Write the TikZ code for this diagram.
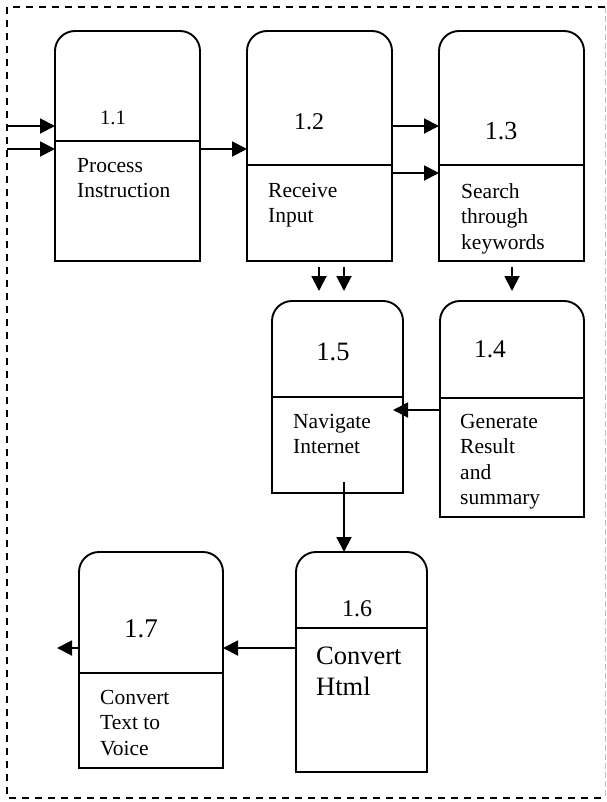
\documentclass[tikz,border=0pt]{standalone}
\usepackage{fontspec}
\setmainfont{Liberation Serif}
\usetikzlibrary{arrows.meta}
\tikzset{
  boxarea/.style={inner sep=0pt, outer sep=0pt, anchor=north west},
  boxline/.style={line width=1.9bp, black},
  arr/.style={line width=1.9bp, -{Triangle[length=15bp,width=15bp]}},
  lbl/.style={inner sep=0pt, anchor=base},
  body/.style={inner sep=0pt, anchor=north west, align=left, font=\fontsize{21.5bp}{25.5bp}\selectfont},
  border/.style={line width=1.9bp, dash pattern=on 7bp off 6bp},
}
\newcommand\mkproc[6]{%
  \node[boxarea, minimum width=#4bp, minimum height=#5bp] (#1) at (#2,#3) {};
  \draw[boxline] (#1.south west) -- ([yshift=-20bp]#1.north west)
     arc[start angle=180,end angle=90,radius=20bp] -- ([xshift=-20bp]#1.north east)
     arc[start angle=90,end angle=0,radius=20bp] -- (#1.south east) -- cycle;
  \draw[boxline] (#1.west |- 0,#6) -- (#1.east |- 0,#6);
}
\begin{document}
\begin{tikzpicture}[x=1bp, y=-1bp]
\useasboundingbox (0,0) rectangle (607,802);
% border
\draw[border] (605,7) -- (7,7) -- (7,798) -- (605,798);
\draw[line width=1bp, black!25, dash pattern=on 6bp off 3bp] (605,7) -- (605,798);
% process boxes
\mkproc{b11}{55}{31}{145}{230}{141}
\mkproc{b12}{247}{31}{145}{230}{165}
\mkproc{b13}{439}{31}{145}{230}{165}
\mkproc{b15}{272}{301}{131}{192}{397}
\mkproc{b14}{440}{301}{144}{216}{398}
\mkproc{b16}{296}{552}{131}{220}{628}
\mkproc{b17}{79}{552}{144}{216}{673}
% labels
\node[lbl, font=\fontsize{20.5bp}{24bp}\selectfont] (n11) at (113,124) {1.1};
\node[lbl, font=\fontsize{24bp}{28bp}\selectfont] (n12) at (309,129) {1.2};
\node[lbl, font=\fontsize{26bp}{30bp}\selectfont] (n13) at (501,139) {1.3};
\node[lbl, font=\fontsize{26.5bp}{30bp}\selectfont] (n15) at (333,360) {1.5};
\node[lbl, font=\fontsize{25.5bp}{30bp}\selectfont] (n14) at (490,357) {1.4};
\node[lbl, font=\fontsize{24bp}{28bp}\selectfont] (n16) at (357,616) {1.6};
\node[lbl, font=\fontsize{27bp}{31bp}\selectfont] (n17) at (141,637) {1.7};
% texts
\node[body] (t11) at (77,158) {Process\\Instruction};
\node[body] (t12) at (268,183) {Receive\\Input};
\node[body] (t13) at (461,183) {Search\\through\\keywords};
\node[body] (t15) at (293,414) {Navigate\\Internet};
\node[body] (t14) at (460,414) {Generate\\Result\\and\\summary};
\node[body, font=\fontsize{26.5bp}{31bp}\selectfont] (t16) at (316,647) {Convert\\Html};
\node[body] (t17) at (100,690) {Convert\\Text to\\Voice};
% connectors
\coordinate (in1) at (7,126);
\coordinate (in2) at (7,149);
\coordinate (y173) at (0,173);
\coordinate (y410) at (0,410);
\coordinate (y648) at (0,648);
\draw[arr] (in1) -- (in1 -| b11.west);
\draw[arr] (in2) -- (in2 -| b11.west);
\draw[arr] (b11.east |- in2) -- (b12.west |- in2);
\draw[arr] (b12.east |- in1) -- (b13.west |- in1);
\draw[arr] (b12.east |- y173) -- (b13.west |- y173);
\coordinate (d1s) at (319,267); \coordinate (d1e) at (319,291);
\coordinate (d2s) at (344,267); \coordinate (d2e) at (344,291);
\coordinate (d3s) at (512,267); \coordinate (d3e) at (512,291);
\draw[arr] (d1s) -- (d1e);
\draw[arr] (d2s) -- (d2e);
\draw[arr] (d3s) -- (d3e);
\coordinate (t45) at (393,410);
\draw[arr] (b14.west |- y410) -- (t45);
\coordinate (s56) at (344,482);
\draw[arr] (s56) -- (s56 |- b16.north);
\draw[arr] (b16.west |- y648) -- (b17.east |- y648);
\coordinate (out) at (57,648);
\draw[arr] (b17.west |- out) -- (out);
\end{tikzpicture}
\end{document}
